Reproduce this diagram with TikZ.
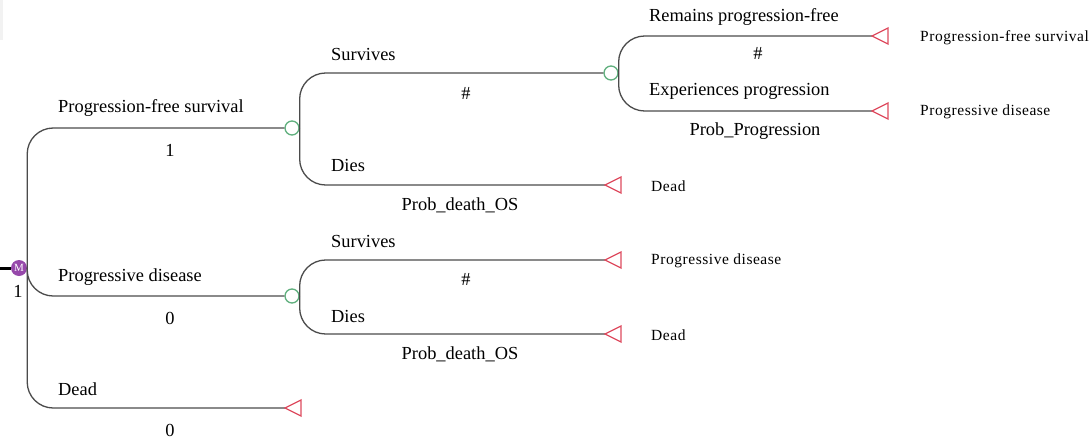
\documentclass[tikz,border=0pt]{standalone}
\usepackage{fontspec}
\setmainfont{Liberation Serif}
\newfontfamily\resfont[LetterSpace=3.5]{Liberation Serif}
\usetikzlibrary{positioning}
\definecolor{linegray}{RGB}{75,75,75}
\definecolor{chancegreen}{RGB}{95,175,125}
\definecolor{termred}{RGB}{222,75,95}
\definecolor{markovpurple}{RGB}{150,72,170}

\begin{document}
\begin{tikzpicture}[x=1pt, y=-1pt,% pixel coordinates, y downwards
 branch/.style = {draw=linegray, line width=1.3pt, rounded corners=26pt},
 chance/.style = {circle, draw=chancegreen, line width=1.3pt, fill=white,
                  minimum size=14pt, inner sep=0pt},
 markov/.style = {circle, fill=markovpurple, text=white,
                  minimum size=16pt, inner sep=0pt,
                  font=\fontsize{11}{11}\selectfont},
   term/.style = {draw=termred, line width=1.3pt, fill=white},
    lbl/.style = {anchor=west, inner sep=0pt, font=\fontsize{18.4}{20}\selectfont},
    val/.style = {inner sep=0pt, font=\fontsize{18.4}{20}\selectfont},
    res/.style = {anchor=west, inner sep=0pt, font=\resfont\fontsize{15.5}{17}\selectfont}
                   ]
    \useasboundingbox (0,0) rectangle (1090,439);
    \fill[gray!10] (0,0) rectangle (3,40);

    % decision nodes
    \node[markov] (mk) at (19,268) {M};
    \node[val] (mk1) at (18,291) {1};
    \draw[line width=3pt] (0,268) -- (mk.west);

    \node[chance] (c1) at (292,128) {};
    \node[chance] (c2) at (611,73)  {};
    \node[chance] (c3) at (292,296) {};

    % terminal nodes (tips)
    \coordinate (t1) at (872,36);
    \coordinate (t2) at (872,111);
    \coordinate (t3) at (605,185);
    \coordinate (t4) at (605,260);
    \coordinate (t5) at (605,334);
    \coordinate (t6) at (285,408);

    % branches
    \draw[branch] (mk.east) |- (c1.west);
    \draw[branch] (mk.east) |- (c3.west);
    \draw[branch] (mk.east) |- (t6);
    \draw[branch] (c1.east) |- (c2.west);
    \draw[branch] (c1.east) |- (t3);
    \draw[branch] (c2.east) |- (t1);
    \draw[branch] (c2.east) |- (t2);
    \draw[branch] (c3.east) |- (t4);
    \draw[branch] (c3.east) |- (t5);

    \foreach \t in {t1,t2,t3,t4,t5,t6}
        \draw[term] (\t) -- ++(16,-8) -- ++(0,16) -- cycle;

    % branch labels
    \node[lbl] (pfs)  at (58,108)  {Progression-free survival};
    \node[val] (pfsp) at (170,150) {1};
    \node[lbl] (pd)   at (58,277)  {Progressive disease};
    \node[val] (pdp)  at (170,318) {0};
    \node[lbl] (dd)   at (58,389)  {Dead};
    \node[val] (ddp)  at (170,430) {0};

    \node[lbl] (sv1)  at (331,54)  {Survives};
    \node[val] (sv1p) at (466,93)  {\#};
    \node[lbl] (di1)  at (331,165) {Dies};
    \node[val] (di1p) at (460,205) {Prob\_death\_OS};

    \node[lbl] (rpf)  at (649,17)  {Remains progression-free};
    \node[val] (rpfp) at (758,53)  {\#};
    \node[lbl] (exp)  at (649,91)  {Experiences progression};
    \node[val] (expp) at (755,131) {Prob\_Progression};

    \node[lbl] (sv2)  at (331,241) {Survives};
    \node[val] (sv2p) at (466,279) {\#};
    \node[lbl] (di2)  at (331,316) {Dies};
    \node[val] (di2p) at (460,354) {Prob\_death\_OS};

    % outcomes
    \node[res] (o1) at (920,38)  {Progression-free survival};
    \node[res] (o2) at (920,112) {Progressive disease};
    \node[res] (o3) at (651,186) {Dead};
    \node[res] (o4) at (651,261) {Progressive disease};
    \node[res] (o5) at (651,335) {Dead};
\end{tikzpicture}
\end{document}
